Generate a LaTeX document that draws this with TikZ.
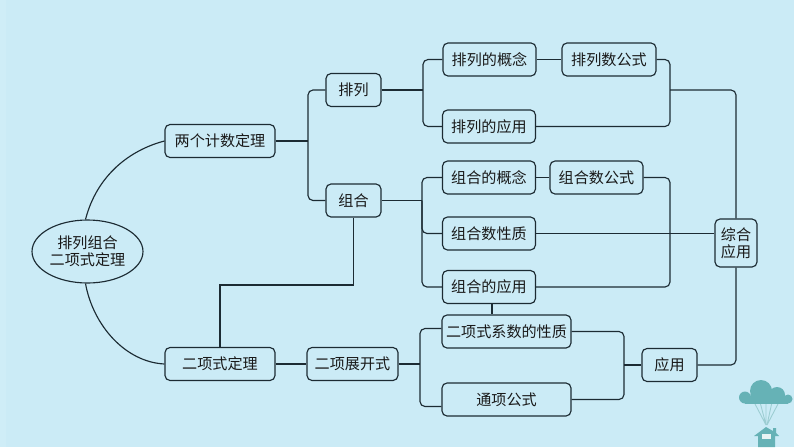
\documentclass[tikz,border=0pt]{standalone}
\usepackage{fontspec}
\setmainfont{Noto Sans CJK SC}
\usepackage{xcolor}
\usetikzlibrary{calc,shapes.geometric}
\definecolor{bgblue}{HTML}{CBEBF6}
\definecolor{stripblue}{HTML}{CFEDF7}
\definecolor{wire}{HTML}{1C2B33}
\definecolor{cloudteal}{HTML}{66B2B6}
\definecolor{stringteal}{HTML}{9CCDD2}
\tikzset{box/.style={draw=wire,line width=0.65pt,rounded corners=0.1cm,inner sep=0pt,minimum height=0.66cm,align=center,text=black!90,font=\fontsize{8.6}{9.7}\selectfont}}
\tikzset{link/.style={draw=wire,line width=0.65pt,rounded corners=0.1cm}}
\begin{document}
\begin{tikzpicture}[x=0.02cm,y=-0.02cm]
  \useasboundingbox (0,0) rectangle (794,447);
  \fill[bgblue] (0,0) rectangle (794,447);
  \fill[stripblue] (0,0) rectangle (6,447);

  % root and first level
  \node[box,ellipse,minimum width=2.22cm,minimum height=1.26cm] (root) at (87.5,251.5) {排列组合\\二项式定理};
  \node[box,minimum width=2.2cm] (counting) at (220,141) {两个计数定理};
  \node[box,minimum width=2.2cm] (binom) at (220,364) {二项式定理};
  \draw[link] ($(root.north)+(-2,0)$) .. controls (97,175) and (130,150) .. (counting.west);
  \draw[link] ($(root.south)+(-2,0)$) .. controls (93,325) and (125,362) .. (binom.west);

  % permutation and combination
  \node[box,minimum width=1.1cm] (perm) at (353.5,90) {排列};
  \node[box,minimum width=1.1cm] (comb) at (353.5,200.5) {组合};
  \coordinate (busa) at (308,141);
  \draw[link] (counting.east) -- (busa);
  \draw[link] (perm.west) -| (busa) |- (comb.west);
  \draw[link,rounded corners=0pt] (comb.south) |- (220,285) -- (binom.north);

  % permutation branch
  \node[box,minimum width=1.86cm] (permdef) at (489.5,59.5) {排列的概念};
  \node[box,minimum width=1.88cm] (permnum) at (609,59.5) {排列数公式};
  \node[box,minimum width=1.86cm] (permuse) at (489,126.5) {排列的应用};
  \coordinate (busb) at (423,90);
  \coordinate (busc) at (670,90);
  \draw[link] (perm.east) -- (busb);
  \draw[link] (permdef.west) -| (busb) |- (permuse.west);
  \draw[link] (permdef.east) -- (permnum.west);
  \draw[link] (permnum.east) -| (busc) |- (permuse.east);

  % combination branch
  \node[box,minimum width=1.86cm] (combdef) at (489,177.5) {组合的概念};
  \node[box,minimum width=1.86cm] (combnum) at (596.5,177.5) {组合数公式};
  \node[box,minimum width=1.86cm] (combprop) at (489,233.5) {组合数性质};
  \node[box,minimum width=1.86cm] (combuse) at (489,287) {组合的应用};
  \coordinate (busd) at (422,200.5);
  \coordinate (buse) at (670,233.5);
  \draw[link] (comb.east) -- (busd);
  \draw[link] (combdef.west) -| (busd) |- (combuse.west);
  \draw[link] (busd) |- (combprop.west);
  \draw[link] (combdef.east) -- (combnum.west);
  \draw[link] (combnum.east) -| (buse) |- (combuse.east);

  % comprehensive use
  \node[box,minimum width=0.84cm,minimum height=0.96cm] (overall) at (736,243) {综合\\应用};
  \draw[link] (busc) -| (overall.north);
  \draw[link] (combprop.east) -- (combprop.east -| overall.west);

  % binomial branch
  \node[box,minimum width=1.82cm] (expand) at (352.5,364) {二项展开式};
  \node[box,minimum width=2.58cm] (coef) at (506.5,331.5) {二项式系数的性质};
  \node[box,minimum width=2.58cm] (general) at (506.5,399.5) {通项公式};
  \node[box,minimum width=1.1cm] (apply) at (669.5,365) {应用};
  \coordinate (busf) at (420,364);
  \coordinate (busg) at (624,365);
  \draw[link] (binom.east) -- (expand.west);
  \draw[link] (expand.east) -- (busf);
  \draw[link] ($(coef.west)+(0,-3)$) -| (busf) |- ($(general.west)+(0,7)$);
  \draw[link] (coef.east) -| (busg) |- (general.east);
  \draw[link] (busg) -- (apply.west);
  \draw[link] (apply.east) -| (overall.south);
  \draw[link] (combuse.south -| 492,0) -- (coef.north -| 492,0);

  % cloud and house
  \draw[stringteal,line width=0.5pt] (754,402) -- (766,425) (760,402) -- (766,425) (766,402) -- (766,425) (772,402) -- (767,425) (779,402) -- (767,425);
  \fill[cloudteal] (745,397.5) circle[radius=6] (761,391) circle[radius=11] (777,395) circle[radius=8] (788,399) circle[radius=4.5];
  \fill[cloudteal] (745,396) rectangle (788,403.5);
  \fill[cloudteal] (766,427) -- (754,436) -- (758,436) -- (758,447) -- (775,447) -- (775,436) -- (779,436) -- (776,433) -- (776,428) -- (773,428) -- (773,431) -- cycle;
  \fill[white!85!cloudteal] (762,434) rectangle (771,439);
\end{tikzpicture}
\end{document}
